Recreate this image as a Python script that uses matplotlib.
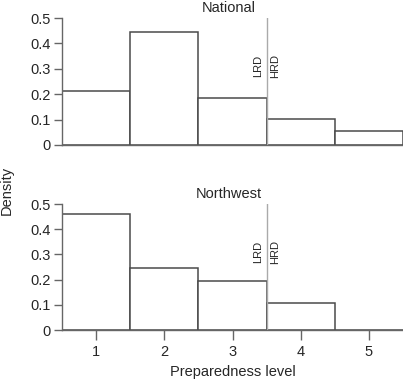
import matplotlib
matplotlib.use("Agg")
import matplotlib.pyplot as plt

plt.rcParams['font.family'] = ['Liberation Sans', 'DejaVu Sans']

levels = [1, 2, 3, 4, 5]
national = [0.213, 0.443, 0.184, 0.101, 0.055]
northwest = [0.460, 0.247, 0.193, 0.107, 0.0]
titles = ["National", "Northwest"]
yticks = [0, 0.1, 0.2, 0.3, 0.4, 0.5]
ytick_labels = ["0", "0.1", "0.2", "0.3", "0.4", "0.5"]
threshold = 3.5

W, H = 403, 380
fig = plt.figure(figsize=(W / 100, H / 100), dpi=100)

def px_axes(left, top, right, bottom):
    return fig.add_axes([left / W, 1 - bottom / H, (right - left) / W, (bottom - top) / H])

ax1 = px_axes(62, 18, 403, 145)
ax2 = px_axes(62, 204, 403, 330)

edge = '#4a4a4a'
spine_c = '#666666'
txt_c = '#262626'
for ax, vals, title in [(ax1, national, titles[0]), (ax2, northwest, titles[1])]:
    ax.bar(levels, vals, width=1.0, facecolor='white', edgecolor=edge, linewidth=1.1, zorder=2)
    ax.set_xlim(0.5, 5.5)
    ax.set_ylim(0, 0.5)
    ax.set_yticks(yticks)
    ax.set_yticklabels(ytick_labels)
    for s in ['top', 'right']:
        ax.spines[s].set_visible(False)
    for s in ['left', 'bottom']:
        ax.spines[s].set_color(spine_c)
        ax.spines[s].set_linewidth(1.0)
    ax.tick_params(axis='y', direction='out', length=6, width=1.0, color=spine_c,
                   labelsize=10.5, pad=2, labelcolor=txt_c)
    ax.axvline(threshold, ymin=0, ymax=1, color='#aaaaaa', linewidth=1.0, zorder=3)
    ax.text(threshold - 0.12, 0.31, "LRD", rotation=90, ha='center', va='center',
            fontsize=8, color=txt_c)
    ax.text(threshold + 0.12, 0.31, "HRD", rotation=90, ha='center', va='center',
            fontsize=8, color=txt_c)
    ax.set_title(title, fontsize=10.5, pad=4, color=txt_c, x=0.49)
    ax.patch.set_alpha(0)

ax1.set_xticks([])
ax2.set_xticks(levels)
ax2.set_xticklabels([str(l) for l in levels])
ax2.tick_params(axis='x', direction='out', length=7, width=1.0, color=spine_c,
                labelsize=10.5, pad=4, labelcolor=txt_c)
ax2.set_xlabel("Preparedness level", fontsize=10.5, labelpad=4, color=txt_c)

fig.text(7 / W, 1 - 190 / H, "Density", rotation=90, ha='center', va='center',
         fontsize=10.5, color=txt_c)

fig.savefig("out.png", dpi=100)
